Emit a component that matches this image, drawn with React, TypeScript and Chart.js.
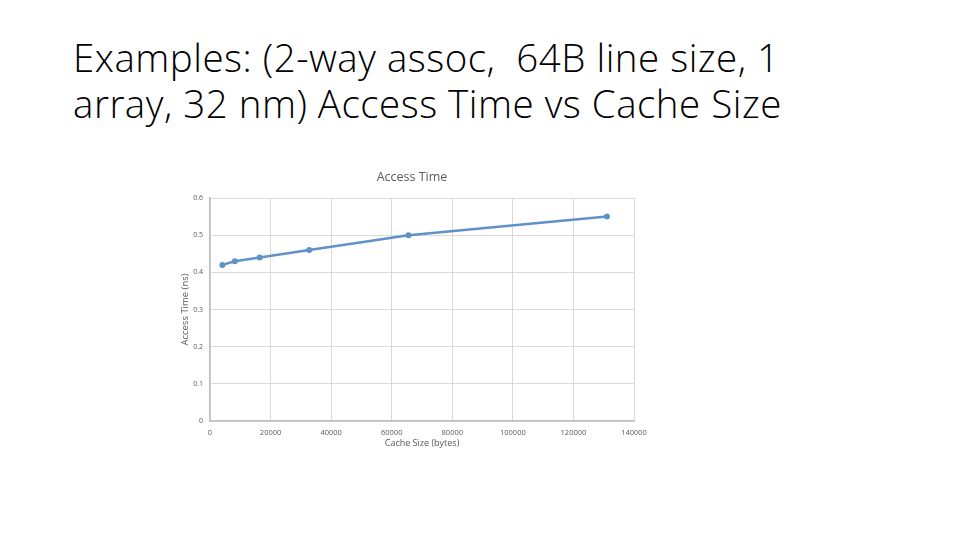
import Chart from "chart.js/auto";
import type { Plugin } from "chart.js";
import { useEffect, useRef } from "react";

const slideTitle = ["Examples: (2-way assoc,  64B line size, 1", "array, 32 nm) Access Time vs Cache Size"];
const chartTitle = "Access Time";
const xAxisTitle = "Cache Size (bytes)";
const yAxisTitle = "Access Time (ns)";

const cacheSizes = [4096, 8192, 16384, 32768, 65536, 131072];
const accessTimes = [0.42, 0.43, 0.44, 0.46, 0.5, 0.55];

const xTicks = [0, 20000, 40000, 60000, 80000, 100000, 120000, 140000];
const yTicks = [0, 0.1, 0.2, 0.3, 0.4, 0.5, 0.6];

const lineColor = "#5f92c8";
const tickColor = "#595959";
const gridColor = "#d9d9d9";
const axisColor = "#bfbfbf";
const chartFont = "'Open Sans', 'Noto Sans', sans-serif";

// title is centred on the whole chart frame, not on the padded layout box
const chartTitlePlugin: Plugin<"scatter"> = {
  id: "chartTitle",
  afterDraw(chart) {
    const { ctx } = chart;
    ctx.save();
    ctx.fillStyle = tickColor;
    ctx.font = `12.5px ${chartFont}`;
    ctx.textAlign = "center";
    ctx.textBaseline = "middle";
    ctx.fillText(chartTitle, chart.width / 2 + 2, 17);
    ctx.restore();
  }
};

function AccessTimeChart() {
  const canvasRef = useRef<HTMLCanvasElement | null>(null);

  useEffect(() => {
    const canvas = canvasRef.current;
    if (!canvas) return;

    const chart = new Chart(canvas, {
      type: "scatter",
      data: {
        datasets: [
          {
            label: chartTitle,
            data: cacheSizes.map((x, i) => ({ x, y: accessTimes[i] })),
            showLine: true,
            borderColor: lineColor,
            backgroundColor: lineColor,
            borderWidth: 2.5,
            pointRadius: 3,
            pointBorderWidth: 0,
            tension: 0
          }
        ]
      },
      options: {
        responsive: true,
        maintainAspectRatio: false,
        animation: false,
        layout: {
          padding: { top: 38, right: 26, bottom: 0, left: 0 }
        },
        plugins: {
          legend: { display: false },
          tooltip: { enabled: false },
          title: { display: false }
        },
        scales: {
          x: {
            type: "linear",
            min: 0,
            max: 140000,
            afterBuildTicks: (scale) => {
              scale.ticks = xTicks.map((value) => ({ value }));
            },
            afterFit: (scale) => {
              scale.height = 39;
            },
            ticks: {
              color: tickColor,
              padding: 7,
              maxRotation: 0,
              autoSkip: false,
              font: { family: chartFont, size: 7.5 },
              callback: (value) => String(value)
            },
            grid: { color: gridColor, drawTicks: false },
            border: { color: axisColor, width: 1.5 },
            title: {
              display: true,
              text: xAxisTitle,
              color: tickColor,
              font: { family: chartFont, size: 9 },
              padding: { top: 0, bottom: 11 }
            }
          },
          y: {
            type: "linear",
            min: 0,
            max: 0.6,
            afterBuildTicks: (scale) => {
              scale.ticks = yTicks.map((value) => ({ value }));
            },
            afterFit: (scale) => {
              scale.width = 50;
            },
            ticks: {
              color: tickColor,
              padding: 7,
              autoSkip: false,
              font: { family: chartFont, size: 7 },
              callback: (value) => String(Math.round(Number(value) * 10) / 10)
            },
            grid: { color: gridColor, drawTicks: false },
            border: { color: axisColor, width: 1.5 },
            title: {
              display: true,
              text: yAxisTitle,
              color: tickColor,
              font: { family: chartFont, size: 9.5 },
              padding: { top: 20, bottom: 0 }
            }
          }
        }
      },
      plugins: [chartTitlePlugin]
    });

    return () => chart.destroy();
  }, []);

  return <canvas ref={canvasRef} aria-label="Access time vs cache size" role="img" />;
}

export default function App() {
  return (
    <div
      style={{
        position: "absolute",
        left: 0,
        top: 0,
        width: 960,
        height: 540,
        background: "#ffffff",
        overflow: "hidden"
      }}
    >
      <div
        style={{
          position: "absolute",
          left: 73,
          top: 35,
          fontFamily: "'Open Sans', 'Noto Sans', sans-serif",
          fontWeight: 300,
          fontSize: 38.5,
          letterSpacing: 0.5,
          lineHeight: "45.5px",
          color: "#000000",
          whiteSpace: "pre"
        }}
      >
        {slideTitle.map((line) => (
          <div key={line}>{line}</div>
        ))}
      </div>
      <div style={{ position: "absolute", left: 160, top: 160, width: 500, height: 300 }}>
        <AccessTimeChart />
      </div>
    </div>
  );
}
